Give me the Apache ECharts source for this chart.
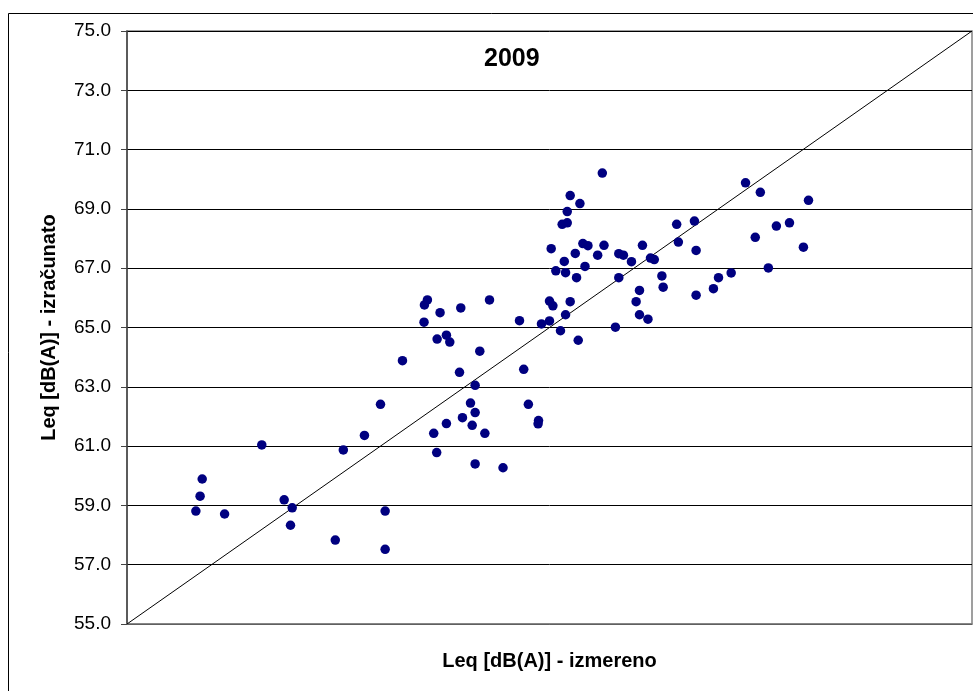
<!DOCTYPE html>
<html>
<head>
<meta charset="utf-8">
<title>Leq 2009</title>
<script src="https://cdn.jsdelivr.net/npm/echarts@6/dist/echarts.min.js"></script>
<style>
  html, body { margin: 0; padding: 0; background: #fff; }
  #chart { width: 973px; height: 691px; }
</style>
</head>
<body>
<div id="chart"></div>
<script>
// Measured Leq [dB(A)] at each location
const measured = [
  56.63, 56.73, 56.78, 57.31, 58.19, 58.72, 58.91, 58.87, 59.93, 60.12,
  60.62, 61.00, 61.11, 61.11, 61.52, 62.11, 62.04, 62.41, 62.03, 62.90,
  63.58, 62.34, 62.56, 62.64, 63.35, 62.87, 63.24, 63.13, 63.24, 62.94,
  62.56, 63.17, 62.26, 63.47, 62.33, 63.24, 63.90, 64.29, 64.39, 64.50,
  64.74, 64.73, 64.81, 65.00, 65.26, 65.00, 65.08, 65.49, 65.38, 65.68,
  66.56, 65.04, 65.15, 65.38, 65.35, 65.64, 65.61, 65.84, 65.79, 65.91,
  66.14, 66.29, 66.64, 66.75, 66.94, 67.20, 67.39, 67.48, 66.64, 67.66,
  67.69, 67.13, 67.05, 67.13, 67.33, 66.25, 65.49, 65.72, 65.42, 65.42,
  65.30, 69.64, 69.99, 71.13, 68.01, 68.43, 70.37, 70.68, 69.87, 68.05,
  71.01, 68.47, 70.18, 69.00, 69.30, 68.88, 68.47
];

// Calculated Leq [dB(A)] for the same locations
const calculated = [
  58.81, 59.31, 59.89, 58.71, 61.04, 59.19, 58.92, 58.33, 57.83, 60.87,
  61.36, 62.41, 58.81, 57.52, 63.88, 65.93, 65.76, 65.50, 65.18, 65.66,
  65.93, 64.61, 64.74, 64.51, 64.20, 63.49, 63.05, 62.45, 62.13, 61.96,
  61.76, 61.70, 61.43, 61.43, 60.78, 60.40, 60.27, 65.23, 63.59, 62.41,
  61.86, 61.75, 65.12, 65.22, 64.89, 65.89, 65.73, 65.87, 65.43, 64.57,
  65.01, 67.66, 66.91, 66.85, 67.23, 66.68, 67.50, 67.06, 67.83, 67.76,
  67.44, 67.77, 67.49, 67.44, 67.22, 67.77, 67.34, 67.29, 66.68, 66.74,
  66.36, 66.25, 65.87, 65.43, 65.28, 70.21, 69.45, 69.18, 68.91, 68.53,
  68.48, 69.88, 69.56, 69.29, 68.48, 68.59, 68.42, 68.53, 68.04, 67.88,
  67.71, 67.60, 67.01, 66.68, 66.84, 66.31, 66.09
];

// Line of perfect agreement (calculated = measured)
const agreementLine = [[55, 55], [75, 75]];

const axisMin = 55;
const axisMax = 75;
const tickStep = 2;

const chartTitle = '2009';
const xAxisTitle = 'Leq [dB(A)] - izmereno';
const yAxisTitle = 'Leq [dB(A)] - izračunato';

const points = measured.map((m, i) => [m, calculated[i]]);

const font = "'Liberation Sans', Arial, sans-serif";

const chart = echarts.init(document.getElementById('chart'), null, { renderer: 'canvas' });

chart.setOption({
  backgroundColor: '#ffffff',
  animation: false,
  title: {
    text: chartTitle,
    left: 484,
    top: 47,
    padding: 0,
    textStyle: { fontFamily: font, fontSize: 25, fontWeight: 'bold', color: '#000' }
  },
  graphic: [{
    type: 'rect',
    silent: true,
    z: -10,
    shape: { x: 8.5, y: 13.5, width: 1000, height: 1000 },
    style: { fill: 'none', stroke: '#000', lineWidth: 1 }
  }],
  grid: {
    left: 127,
    top: 31,
    right: 1,
    bottom: 67,
    show: true,
    borderColor: '#808080',
    borderWidth: 1.5,
    backgroundColor: 'transparent'
  },
  xAxis: {
    type: 'value',
    min: axisMin,
    max: axisMax,
    interval: tickStep,
    name: xAxisTitle,
    nameLocation: 'middle',
    nameGap: 27,
    nameTextStyle: { fontFamily: font, fontSize: 20, fontWeight: 'bold', color: '#000' },
    axisLine: { show: true, lineStyle: { color: '#808080', width: 1.5 } },
    axisTick: { show: false },
    axisLabel: { show: false },
    splitLine: { show: false }
  },
  yAxis: {
    type: 'value',
    min: axisMin,
    max: axisMax,
    interval: tickStep,
    name: yAxisTitle,
    nameLocation: 'middle',
    nameGap: 68,
    nameTextStyle: { fontFamily: font, fontSize: 20, fontWeight: 'bold', color: '#000' },
    axisLine: { show: true, lineStyle: { color: '#444', width: 1.5 } },
    axisTick: { show: true, length: 6, lineStyle: { color: '#444', width: 1 } },
    axisLabel: {
      show: true,
      margin: 16,
      fontFamily: font,
      fontSize: 19,
      color: '#000',
      formatter: v => v.toFixed(1)
    },
    splitLine: { show: true, lineStyle: { color: '#000', width: 1 } }
  },
  series: [
    {
      type: 'line',
      data: agreementLine,
      showSymbol: false,
      symbol: 'none',
      silent: true,
      z: 1,
      lineStyle: { color: '#000', width: 1 }
    },
    {
      type: 'scatter',
      data: points,
      symbol: 'circle',
      symbolSize: 9.5,
      z: 3,
      itemStyle: { color: '#000080', opacity: 1 }
    }
  ]
});
</script>
</body>
</html>
